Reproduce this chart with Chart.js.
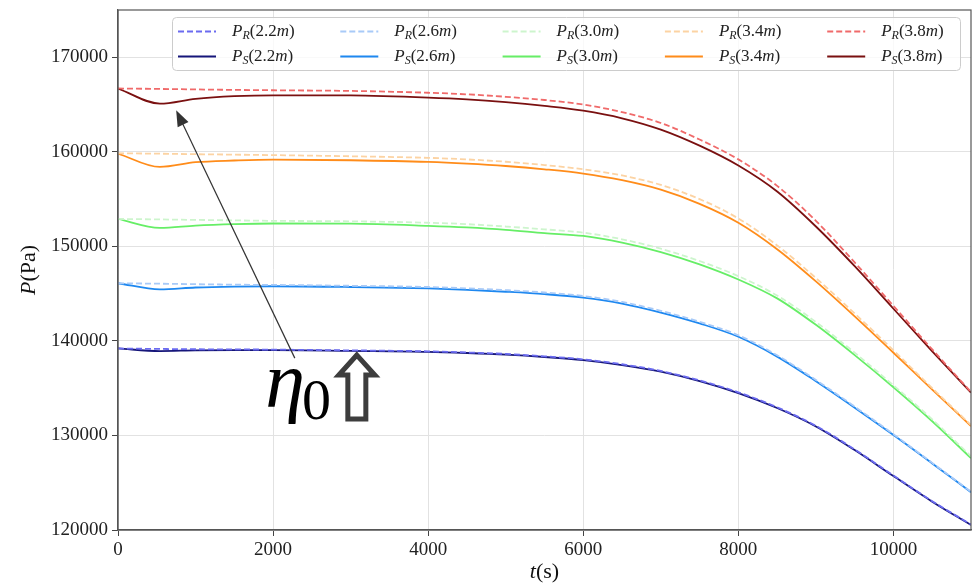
<!DOCTYPE html>
<html>
<head>
<meta charset="utf-8">
<script src="https://cdn.jsdelivr.net/npm/chart.js@4/dist/chart.umd.min.js"></script>
<style>
  body { margin: 0; background: #fff; }
  #wrap { width: 973px; height: 585px; }
</style>
</head>
<body>
<div id="wrap"><canvas id="pChart" width="973" height="585"></canvas></div>
<script>
// time samples (s)
const times = [0, 540, 1000, 1500, 2000, 3000, 4000, 4500, 5000, 5500, 6000, 6500, 7000, 7500, 8000, 8500, 9000, 9500, 10000, 10500, 11000];

const depths = ["2.2", "2.6", "3.0", "3.4", "3.8"];

// reference pressure P_R (dashed)
const pR22 = [139200, 139150, 139120, 139100, 139080, 139000, 138900, 138780, 138620, 138370, 138050, 137530, 136820, 135820, 134560, 132980, 131020, 128520, 125760, 123050, 120580];
const pR26 = [146100, 146050, 146000, 145950, 145920, 145830, 145700, 145560, 145370, 145120, 144750, 144120, 143180, 142020, 140600, 138480, 135870, 133050, 130130, 127100, 124050];
const pR30 = [152900, 152850, 152800, 152750, 152700, 152650, 152500, 152350, 152100, 151800, 151450, 150750, 149750, 148450, 146850, 144800, 142000, 138750, 135300, 131700, 127800];
const pR34 = [159850, 159800, 159750, 159700, 159650, 159530, 159360, 159200, 158950, 158600, 158150, 157500, 156500, 155000, 152950, 150100, 146650, 142900, 139000, 135000, 131100];
const pR38 = [166700, 166650, 166600, 166550, 166510, 166440, 166250, 166080, 165820, 165480, 165000, 164200, 163050, 161300, 159200, 156400, 152700, 148300, 143700, 139100, 134600];

// simulated pressure P_S (solid)
const pS22 = [139200, 138930, 139000, 139030, 139030, 138950, 138850, 138720, 138550, 138300, 137970, 137450, 136750, 135750, 134480, 132900, 130950, 128450, 125700, 123000, 120530];
const pS26 = [146100, 145450, 145650, 145750, 145780, 145700, 145550, 145400, 145200, 144950, 144580, 143950, 143000, 141850, 140440, 138340, 135740, 132940, 130040, 127040, 124000];
const pS30 = [152900, 151960, 152200, 152350, 152420, 152400, 152170, 152000, 151750, 151400, 151100, 150400, 149400, 148100, 146500, 144500, 141700, 138500, 135100, 131500, 127600];
const pS34 = [159820, 158400, 158900, 159080, 159180, 159110, 158930, 158750, 158500, 158150, 157700, 157000, 156000, 154500, 152500, 149700, 146300, 142600, 138750, 134850, 131000];
const pS38 = [166700, 165100, 165600, 165880, 165980, 165960, 165740, 165550, 165250, 164850, 164350, 163550, 162350, 160650, 158550, 155800, 152100, 147900, 143400, 138900, 134520];

const xTicks = [0, 2000, 4000, 6000, 8000, 10000];
const yTicks = [120000, 130000, 140000, 150000, 160000, 170000];

const rColors = ["#6b6bf0", "#a8caf8", "#cdf5cd", "#fcd3a3", "#f06a6a"];
const sColors = ["#16167a", "#1e88f0", "#66ee66", "#ff8c1a", "#7a1010"];

const rSeries = [pR22, pR26, pR30, pR34, pR38];
const sSeries = [pS22, pS26, pS30, pS34, pS38];

const SERIF = "'Liberation Serif', 'DejaVu Serif', serif";

function toPoints(vals) {
    return vals.map((v, i) => ({ x: times[i], y: v }));
}

let datasets = [];
for (let i = 0; i < depths.length; i++) {
    datasets.push({
        label: "P_S(" + depths[i] + "m)",
        sub: "S", depth: depths[i],
        data: toPoints(sSeries[i]),
        borderColor: sColors[i],
        borderWidth: 1.8,
        pointRadius: 0,
        cubicInterpolationMode: "monotone",
        order: 2
    });
}
for (let i = 0; i < depths.length; i++) {
    datasets.push({
        label: "P_R(" + depths[i] + "m)",
        sub: "R", depth: depths[i],
        data: toPoints(rSeries[i]),
        borderColor: rColors[i],
        borderWidth: 1.8,
        borderDash: [6, 3],
        pointRadius: 0,
        cubicInterpolationMode: "monotone",
        order: 1
    });
}

// draw text made of italic / roman / subscript pieces
function richWidth(ctx, parts) {
    let w = 0;
    for (let p of parts) {
        ctx.font = (p.italic ? "italic " : "") + p.size + "px " + SERIF;
        w += ctx.measureText(p.t).width;
    }
    return w;
}
function drawRich(ctx, parts, x, y) {
    for (let p of parts) {
        ctx.font = (p.italic ? "italic " : "") + p.size + "px " + SERIF;
        ctx.fillText(p.t, x, y + (p.dy || 0));
        x += ctx.measureText(p.t).width;
    }
}
function legendParts(ds) {
    return [
        { t: "P", italic: true, size: 17 },
        { t: ds.sub, italic: true, size: 12, dy: 4 },
        { t: "(" + ds.depth, size: 17 },
        { t: "m", italic: true, size: 17 },
        { t: ")", size: 17 }
    ];
}

const extras = {
    id: "extras",
    afterDatasetsDraw(chart) {
        const ctx = chart.ctx;
        const xs = chart.scales.x, ys = chart.scales.y;
        const a = chart.chartArea;

        // frame
        ctx.save();
        ctx.strokeStyle = "#555";
        ctx.lineWidth = 1.2;
        ctx.strokeRect(a.left, a.top, a.right - a.left, a.bottom - a.top);
        ctx.restore();

        // annotation arrow
        let x0 = xs.getPixelForValue(2280), y0 = ys.getPixelForValue(138180);
        let x1 = xs.getPixelForValue(750), y1 = ys.getPixelForValue(164400);
        let ang = Math.atan2(y1 - y0, x1 - x0);
        ctx.save();
        ctx.strokeStyle = "#333";
        ctx.fillStyle = "#333";
        ctx.lineWidth = 1.2;
        ctx.beginPath();
        ctx.moveTo(x0, y0);
        ctx.lineTo(x1 - 12 * Math.cos(ang), y1 - 12 * Math.sin(ang));
        ctx.stroke();
        ctx.beginPath();
        ctx.moveTo(x1, y1);
        ctx.lineTo(x1 - 16 * Math.cos(ang) + 6 * Math.sin(ang), y1 - 16 * Math.sin(ang) - 6 * Math.cos(ang));
        ctx.lineTo(x1 - 16 * Math.cos(ang) - 6 * Math.sin(ang), y1 - 16 * Math.sin(ang) + 6 * Math.cos(ang));
        ctx.closePath();
        ctx.fill();
        ctx.restore();

        // eta_0 label
        ctx.save();
        ctx.fillStyle = "#000";
        ctx.textBaseline = "alphabetic";
        let ex = xs.getPixelForValue(1900), ey = ys.getPixelForValue(133000);
        ctx.font = "italic 80px " + SERIF;
        ctx.fillText("η", ex, ey);
        let ew = ctx.measureText("η").width;
        ctx.font = "58px " + SERIF;
        ctx.fillText("0", ex + ew - 3, ey + 12);
        ctx.restore();

        // hollow up arrow
        let tx = xs.getPixelForValue(3080), ty = ys.getPixelForValue(138820);
        ctx.save();
        ctx.strokeStyle = "#3d3d3d";
        ctx.lineWidth = 5;
        ctx.lineJoin = "miter";
        ctx.beginPath();
        ctx.moveTo(tx, ty + 3);
        ctx.lineTo(tx + 18, ty + 23);
        ctx.lineTo(tx + 9, ty + 23);
        ctx.lineTo(tx + 9, ty + 67);
        ctx.lineTo(tx - 9, ty + 67);
        ctx.lineTo(tx - 9, ty + 23);
        ctx.lineTo(tx - 18, ty + 23);
        ctx.closePath();
        ctx.stroke();
        ctx.restore();
    },
    afterDraw(chart) {
        const ctx = chart.ctx;
        const a = chart.chartArea;
        ctx.save();
        ctx.fillStyle = "#111";
        ctx.textBaseline = "middle";

        // axis titles
        let xt = [{ t: "t", italic: true, size: 22 }, { t: "(s)", size: 22 }];
        let w = richWidth(ctx, xt);
        drawRich(ctx, xt, (a.left + a.right) / 2 - w / 2, 572);

        let yt = [{ t: "P", italic: true, size: 22 }, { t: "(Pa)", size: 22 }];
        w = richWidth(ctx, yt);
        ctx.save();
        ctx.translate(29, 270);
        ctx.rotate(-Math.PI / 2);
        drawRich(ctx, yt, -w / 2, 0);
        ctx.restore();

        // legend box
        ctx.fillStyle = "rgba(255,255,255,0.8)";
        ctx.strokeStyle = "#cccccc";
        ctx.lineWidth = 1;
        ctx.beginPath();
        ctx.roundRect(172.5, 17.5, 788, 53, 4);
        ctx.fill();
        ctx.stroke();

        const dsets = chart.data.datasets;
        for (let i = 0; i < depths.length; i++) {
            let colX = 178 + i * 162.3;
            let rows = [
                dsets.find(d => d.sub === "R" && d.depth === depths[i]),
                dsets.find(d => d.sub === "S" && d.depth === depths[i])
            ];
            rows.forEach((ds, r) => {
                let yy = 31.5 + r * 25;
                ctx.strokeStyle = ds.borderColor;
                ctx.lineWidth = 2;
                ctx.setLineDash(ds.borderDash || []);
                ctx.beginPath();
                ctx.moveTo(colX, yy);
                ctx.lineTo(colX + 38, yy);
                ctx.stroke();
                ctx.setLineDash([]);
                ctx.fillStyle = "#222";
                drawRich(ctx, legendParts(ds), colX + 54, yy);
            });
        }
        ctx.restore();
    }
};

new Chart(document.getElementById("pChart"), {
    type: "line",
    data: { datasets },
    options: {
        responsive: false,
        devicePixelRatio: 1,
        animation: false,
        layout: { padding: { left: 0, top: 10, right: 2, bottom: 0 } },
        plugins: { legend: { display: false }, tooltip: { enabled: false } },
        scales: {
            x: {
                type: "linear",
                min: 0,
                max: 11000,
                afterBuildTicks: s => { s.ticks = xTicks.map(v => ({ value: v })); },
                afterFit: s => { s.height = 55; s.paddingLeft = 0; s.paddingRight = 0; },
                grid: { color: "#e2e2e2", tickColor: "#444", tickLength: 6 },
                border: { color: "#555", width: 1.2 },
                ticks: {
                    padding: 3,
                    color: "#222",
                    font: { family: SERIF, size: 19 },
                    maxRotation: 0,
                    callback: v => String(v)
                }
            },
            y: {
                type: "linear",
                min: 120000,
                max: 175000,
                afterBuildTicks: s => { s.ticks = yTicks.map(v => ({ value: v })); },
                afterFit: s => { s.width = 118; s.paddingTop = 0; s.paddingBottom = 0; },
                grid: { color: "#e2e2e2", tickColor: "#444", tickLength: 6 },
                border: { color: "#555", width: 1.2 },
                ticks: {
                    padding: 4,
                    color: "#222",
                    font: { family: SERIF, size: 19 },
                    callback: v => String(v)
                }
            }
        }
    },
    plugins: [extras]
});
</script>
</body>
</html>
